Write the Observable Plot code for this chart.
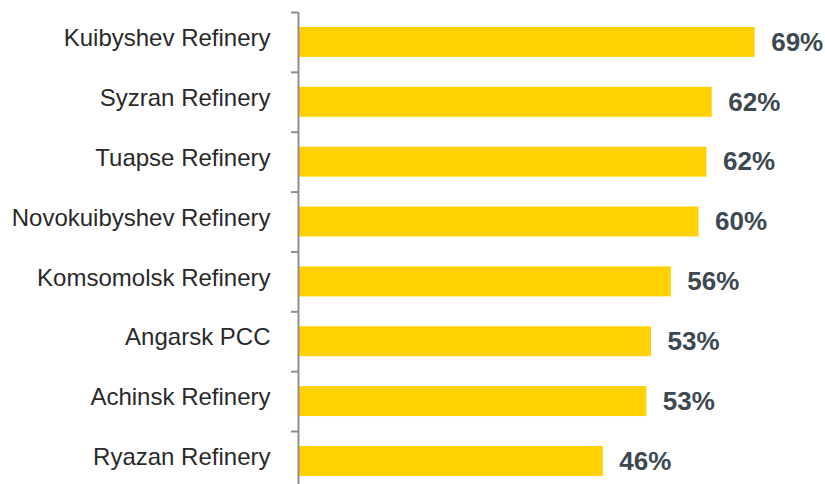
<!DOCTYPE html>
<html>
<head>
<meta charset="utf-8">
<script src="https://cdn.jsdelivr.net/npm/d3@7"></script>
<script src="https://cdn.jsdelivr.net/npm/@observablehq/plot@0.6"></script>
<style>
  html, body { margin: 0; padding: 0; background: #ffffff; overflow: hidden; }
  #chart { width: 825px; height: 484px; }
</style>
</head>
<body>
<div id="chart"></div>
<script>
const categories = ["Kuibyshev Refinery", "Syzran Refinery", "Tuapse Refinery", "Novokuibyshev Refinery", "Komsomolsk Refinery", "Angarsk PCC", "Achinsk Refinery", "Ryazan Refinery"];
const values = [69.0, 62.5, 61.7, 60.5, 56.3, 53.3, 52.6, 46.0];
const valueLabels = ["69%", "62%", "62%", "60%", "56%", "53%", "53%", "46%"];

const data = categories.map((name, i) => ({name, value: values[i], label: valueLabels[i]}));

const bandStep = 59.86;
const plotTop = 12;

const chart = Plot.plot({
  width: 825,
  height: 484,
  marginTop: plotTop,
  marginBottom: 0,
  marginLeft: 299,
  marginRight: 0,
  style: {fontFamily: "'Liberation Sans', Arial, sans-serif", background: "#ffffff"},
  x: {domain: [0, 79.65], axis: null},
  y: {type: "band", domain: categories, range: [plotTop, plotTop + categories.length * bandStep], paddingInner: 0.5, paddingOuter: 0.25, round: false},
  marks: [
    Plot.barX(data, {x: "value", y: "name", fill: "#FFD100"}),
    Plot.ruleX([0], {stroke: "#8f8f8f", strokeWidth: 2, dx: -1}),
    Plot.axisY({tickSize: 7, stroke: "#8f8f8f", strokeWidth: 2, fill: "none", label: null, dy: -bandStep / 2, dx: -1}),
    Plot.text(data, {y: "name", text: "name", frameAnchor: "left", textAnchor: "end", dx: -29, dy: -4, fontSize: 24, fill: "#2a2a2a"}),
    Plot.text(data, {x: "value", y: "name", text: "label", textAnchor: "start", dx: 16, dy: 0, fontSize: 26, fontWeight: "bold", fill: "#3d4850"})
  ]
});
document.getElementById("chart").appendChild(chart);
</script>
</body>
</html>
